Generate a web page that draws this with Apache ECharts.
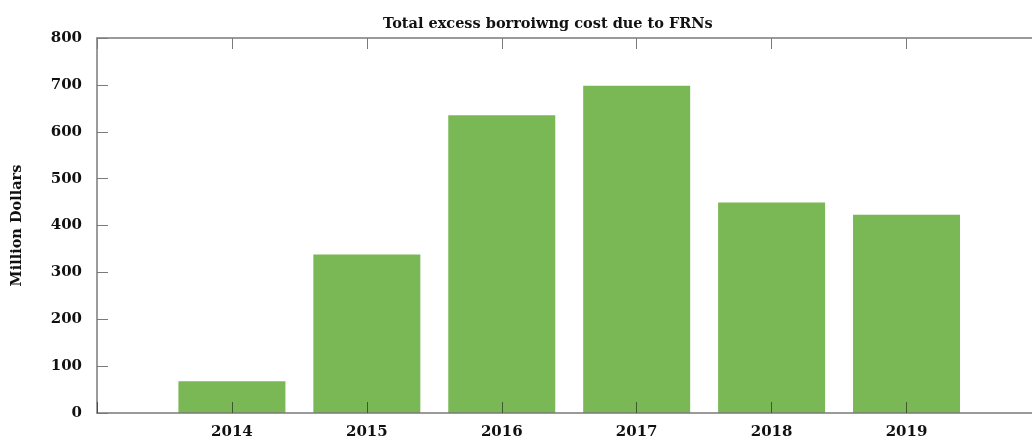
<!DOCTYPE html>
<html>
<head>
<meta charset="utf-8">
<script src="https://cdn.jsdelivr.net/npm/echarts@6/dist/echarts.min.js"></script>
<style>
  html, body { margin: 0; padding: 0; background: #fff; }
  #chart { width: 1032px; height: 436px; }
</style>
</head>
<body>
<div id="chart"></div>
<script>
// data
const categories = ['2014', '2015', '2016', '2017', '2018', '2019']
const costValues = [68, 338, 635, 698, 449, 423]
const yTicks = [0, 100, 200, 300, 400, 500, 600, 700, 800]

// years sit at x = 1..6, the plot runs past the right edge of the picture
const xMax = 6.93
const barData = categories.map((c, i) => [i + 1, costValues[i]])

const font = 'DejaVu Serif'
const axisGrey = '#7a7a7a'

let myChart = echarts.init(document.getElementById('chart'))

function yearLabel (v) {
  return categories[v - 1] || ''
}

let option = {
  animation: false,
  title: {
    text: 'Total excess borroiwng cost due to FRNs',
    left: 378,
    top: 12,
    textStyle: {
      fontFamily: font,
      fontWeight: 'bold',
      fontSize: 14.5,
      color: '#111'
    }
  },
  grid: {
    left: 97,
    right: 0,
    top: 38,
    bottom: 23,
    outerBoundsMode: 'none'
  },
  xAxis: [
    {
      type: 'value',
      min: 0,
      max: xMax,
      interval: 1,
      z: 3,
      axisLine: { lineStyle: { color: axisGrey, width: 1.5 } },
      axisTick: { inside: true, length: 11, lineStyle: { color: '#3d5a2a' } },
      axisLabel: {
        margin: 12,
        formatter: yearLabel,
        showMaxLabel: false,
        fontFamily: font,
        fontWeight: 'bold',
        fontSize: 15,
        color: '#111'
      },
      splitLine: { show: false }
    },
    {
      type: 'value',
      min: 0,
      max: xMax,
      interval: 1,
      position: 'top',
      axisLine: { lineStyle: { color: axisGrey, width: 1.5 } },
      axisTick: { inside: true, length: 11, lineStyle: { color: axisGrey } },
      axisLabel: { show: false },
      splitLine: { show: false }
    }
  ],
  yAxis: {
    type: 'value',
    min: yTicks[0],
    max: yTicks[yTicks.length - 1],
    interval: yTicks[1] - yTicks[0],
    name: 'Million Dollars',
    nameLocation: 'middle',
    nameGap: 72,
    nameTextStyle: {
      fontFamily: font,
      fontWeight: 'bold',
      fontSize: 14.5,
      color: '#111'
    },
    axisLine: { show: true, lineStyle: { color: axisGrey, width: 1.5 } },
    axisTick: { show: true, inside: true, length: 11, lineStyle: { color: axisGrey } },
    axisLabel: {
      margin: 15,
      fontFamily: font,
      fontWeight: 'bold',
      fontSize: 15,
      color: '#111'
    },
    splitLine: { show: false }
  },
  series: [
    {
      type: 'bar',
      data: barData,
      barWidth: 107,
      itemStyle: { color: '#7ab755' },
      z: 1
    }
  ]
}
myChart.setOption(option, true)
</script>
</body>
</html>
